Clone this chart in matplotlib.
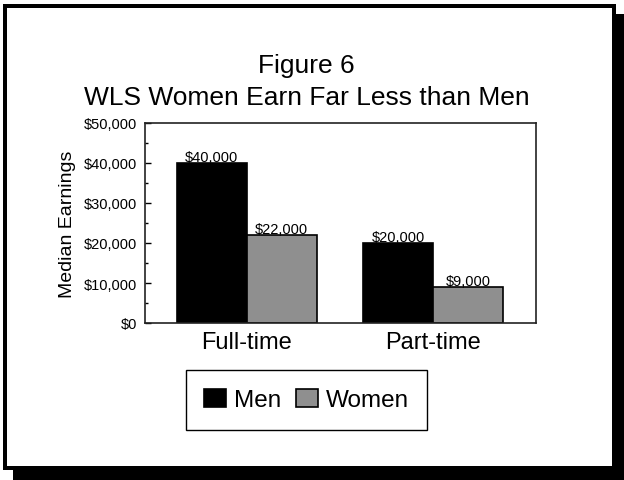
import matplotlib.pyplot as plt
from matplotlib.patches import Rectangle
from matplotlib.ticker import MultipleLocator, FuncFormatter
import numpy as np

# Chart data
categories = ["Full-time", "Part-time"]
men = [40000, 20000]
women = [22000, 9000]
series_names = ["Men", "Women"]

W, H = 624, 481
plt.rcParams['font.family'] = ['Liberation Sans', 'DejaVu Sans']

fig = plt.figure(figsize=(W / 100, H / 100), dpi=100)


def px_rect(x0, y0, x1, y1, color):
    # pixel box (top-left origin) -> figure fraction rectangle
    return Rectangle((x0 / W, 1 - y1 / H), (x1 - x0) / W, (y1 - y0) / H,
                     transform=fig.transFigure, facecolor=color,
                     edgecolor='none', zorder=-5)


# page frame with drop shadow
fig.patches.append(px_rect(13, 15, 624, 481, 'black'))
fig.patches.append(px_rect(3, 5, 616, 471, 'black'))
fig.patches.append(px_rect(7, 9, 612, 467, 'white'))

fig.text(0.4915, 0.8476, "Figure 6", ha='center', va='baseline', fontsize=19)
fig.text(0.4915, 0.7817, "WLS Women Earn Far Less than Men", ha='center',
         va='baseline', fontsize=19)

ax = fig.add_axes([145 / W, 1 - 324 / H, 390.7 / W, 200 / H])
x = np.arange(len(categories))
w = 0.375
b1 = ax.bar(x - w / 2, men, w, color='black', edgecolor='black', linewidth=1.2,
            label=series_names[0])
b2 = ax.bar(x + w / 2, women, w, color='#8f8f8f', edgecolor='black', linewidth=1.2,
            label=series_names[1])

money = lambda v: f"${v:,.0f}"
for bars, vals in [(b1, men), (b2, women)]:
    for r, v in zip(bars, vals):
        ax.text(r.get_x() + r.get_width() / 2, v - 300, money(v), ha='center',
                va='bottom', fontsize=10.5)

ax.set_xlim(-0.545, 1.548)
ax.set_ylim(0, 50000)
ax.yaxis.set_major_locator(MultipleLocator(10000))
ax.yaxis.set_minor_locator(MultipleLocator(5000))
ax.yaxis.set_major_formatter(FuncFormatter(lambda v, p: money(v)))
ax.tick_params(axis='y', which='major', direction='in', length=4.3, width=1,
               labelsize=10.5, pad=5.8)
ax.tick_params(axis='y', which='minor', direction='in', length=2.2, width=1)
ax.set_xticks(x)
ax.set_xticklabels(categories, fontsize=17)
ax.tick_params(axis='x', length=0, pad=6)
for s in ax.spines.values():
    s.set_linewidth(1.2)
    s.set_color('#222222')

ax.set_ylabel("Median Earnings", fontsize=14)
ax.yaxis.set_label_coords(-0.176, 0.5)

fig.legend(handles=[b1, b2], loc='center', bbox_to_anchor=(0.4912, 0.1663),
           ncol=2, fontsize=17.5, frameon=True, fancybox=False,
           edgecolor='black', framealpha=1, handlelength=0.9, handleheight=0.78,
           handletextpad=0.32, columnspacing=0.6, borderpad=0.75)

fig.savefig("out.png", dpi=100)
